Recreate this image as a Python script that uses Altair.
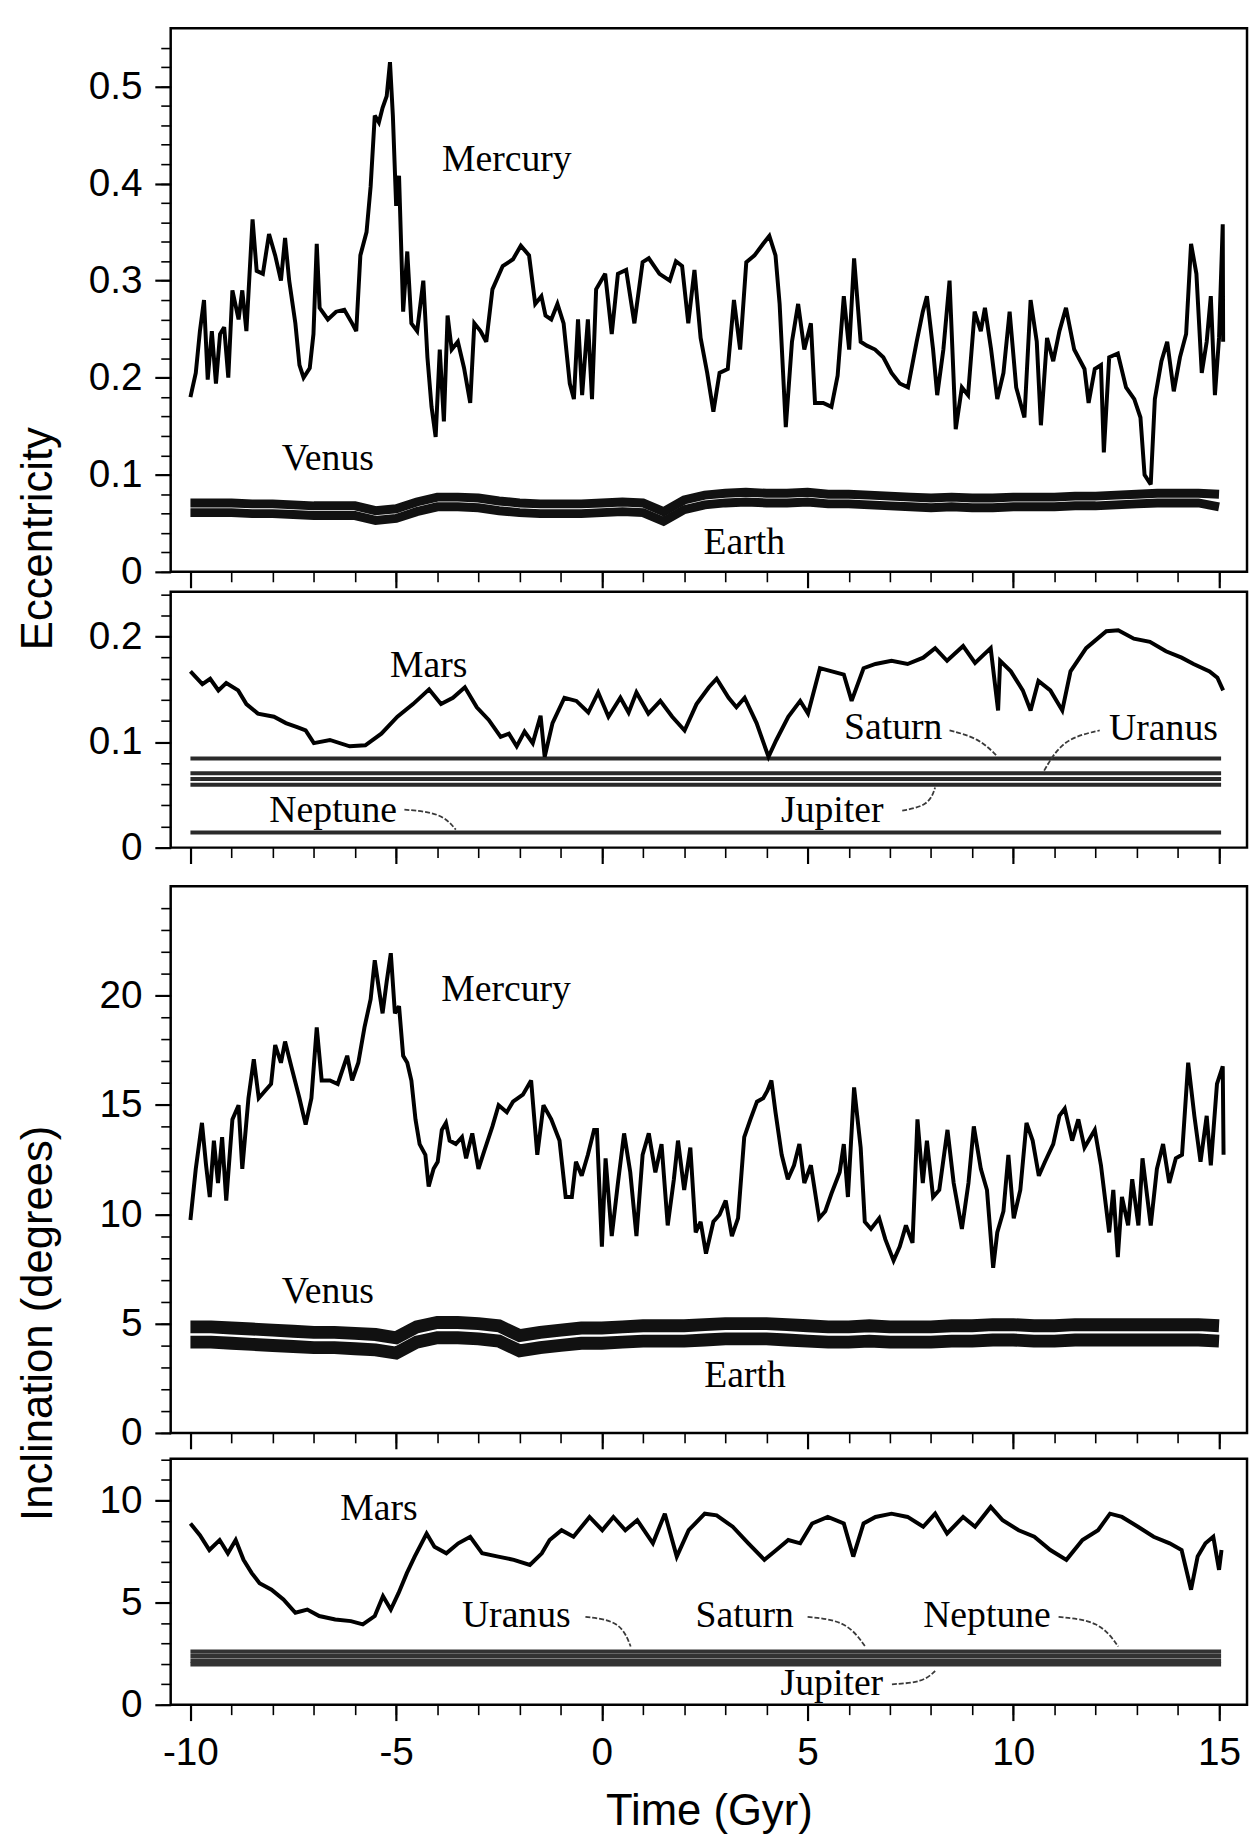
import altair as alt
import pandas as pd

# ---------------- scales / ticks ----------------
X_DOMAIN = [-10.48, 15.68]
X_MAJOR = [-10, -5, 0, 5, 10, 15]
X_MINOR = list(range(-10, 16))

ECC1_DOMAIN = [0, 0.56]
ECC1_MAJOR = [0, 0.1, 0.2, 0.3, 0.4, 0.5]
ECC1_MINOR = [round(0.02 * i, 2) for i in range(28)]
ECC2_DOMAIN = [0, 0.2425]
ECC2_MAJOR = [0, 0.1, 0.2]
ECC2_MINOR = [round(0.02 * i, 2) for i in range(13)]
INC1_DOMAIN = [0, 25]
INC1_MAJOR = [0, 5, 10, 15, 20]
INC1_MINOR = list(range(0, 25))
INC2_DOMAIN = [0, 12.04]
INC2_MAJOR = [0, 5, 10]
INC2_MINOR = list(range(0, 13))

# ---------------- data ----------------
mercury_ecc = [
    (-10.0, 0.18), (-9.87, 0.205), (-9.77, 0.248), (-9.67, 0.28), (-9.58, 0.198), (-9.48, 0.248),
    (-9.38, 0.194), (-9.28, 0.245), (-9.18, 0.252), (-9.08, 0.2), (-8.98, 0.29), (-8.83, 0.26),
    (-8.74, 0.29), (-8.64, 0.248), (-8.49, 0.363), (-8.39, 0.31), (-8.24, 0.307), (-8.09, 0.348),
    (-7.94, 0.326), (-7.8, 0.3), (-7.7, 0.344), (-7.6, 0.3), (-7.45, 0.256), (-7.35, 0.213),
    (-7.25, 0.2), (-7.1, 0.21), (-7.01, 0.245), (-6.93, 0.338), (-6.86, 0.272), (-6.66, 0.26),
    (-6.46, 0.268), (-6.26, 0.27), (-6.07, 0.256), (-5.97, 0.248), (-5.87, 0.326), (-5.72, 0.35),
    (-5.62, 0.397), (-5.52, 0.47), (-5.42, 0.463), (-5.33, 0.478), (-5.23, 0.49), (-5.15, 0.525),
    (-5.08, 0.47), (-5.0, 0.377), (-4.93, 0.408), (-4.83, 0.268), (-4.73, 0.33), (-4.63, 0.256),
    (-4.49, 0.248), (-4.34, 0.3), (-4.24, 0.221), (-4.14, 0.17), (-4.04, 0.139), (-3.94, 0.229),
    (-3.84, 0.155), (-3.75, 0.264), (-3.65, 0.229), (-3.5, 0.237), (-3.35, 0.21), (-3.2, 0.174),
    (-3.1, 0.256), (-2.95, 0.248), (-2.81, 0.237), (-2.66, 0.291), (-2.41, 0.315), (-2.16, 0.322),
    (-1.97, 0.336), (-1.77, 0.326), (-1.62, 0.276), (-1.47, 0.284), (-1.37, 0.264), (-1.23, 0.26),
    (-1.08, 0.276), (-0.93, 0.256), (-0.78, 0.194), (-0.68, 0.178), (-0.58, 0.26), (-0.48, 0.182),
    (-0.34, 0.26), (-0.24, 0.178), (-0.14, 0.291), (0.08, 0.307), (0.24, 0.245), (0.39, 0.307),
    (0.59, 0.311), (0.79, 0.256), (0.99, 0.319), (1.14, 0.323), (1.4, 0.307), (1.65, 0.3),
    (1.8, 0.32), (1.95, 0.315), (2.1, 0.256), (2.25, 0.311), (2.4, 0.241), (2.56, 0.205),
    (2.71, 0.165), (2.86, 0.205), (3.06, 0.209), (3.21, 0.28), (3.36, 0.229), (3.51, 0.319),
    (3.71, 0.326), (3.92, 0.338), (4.07, 0.346), (4.22, 0.326), (4.32, 0.276), (4.47, 0.149),
    (4.62, 0.237), (4.77, 0.276), (4.92, 0.229), (5.08, 0.256), (5.18, 0.174), (5.38, 0.174),
    (5.58, 0.17), (5.73, 0.202), (5.88, 0.284), (6.01, 0.229), (6.13, 0.323), (6.29, 0.237),
    (6.44, 0.233), (6.64, 0.229), (6.84, 0.221), (7.04, 0.205), (7.24, 0.194), (7.44, 0.19),
    (7.65, 0.237), (7.8, 0.268), (7.9, 0.284), (8.05, 0.229), (8.15, 0.182), (8.3, 0.229),
    (8.45, 0.3), (8.6, 0.147), (8.75, 0.19), (8.9, 0.182), (9.06, 0.268), (9.21, 0.248),
    (9.31, 0.272), (9.46, 0.229), (9.61, 0.178), (9.76, 0.205), (9.91, 0.268), (10.07, 0.19),
    (10.27, 0.159), (10.42, 0.28), (10.57, 0.237), (10.67, 0.151), (10.82, 0.241), (10.97, 0.217),
    (11.12, 0.248), (11.28, 0.272), (11.48, 0.229), (11.73, 0.209), (11.83, 0.174), (11.98, 0.209),
    (12.13, 0.213), (12.2, 0.123), (12.33, 0.221), (12.54, 0.225), (12.74, 0.19), (12.94, 0.178),
    (13.09, 0.159), (13.19, 0.1), (13.34, 0.09), (13.44, 0.178), (13.6, 0.217), (13.74, 0.237),
    (13.9, 0.186), (14.05, 0.221), (14.2, 0.245), (14.32, 0.338), (14.45, 0.307), (14.58, 0.205),
    (14.7, 0.237), (14.8, 0.284), (14.9, 0.182), (15.0, 0.241), (15.09, 0.358), (15.1, 0.237),
]

band_t = [-10 + 0.5 * i for i in range(51)]
venus_ecc = [0.071, 0.071, 0.071, 0.070, 0.070, 0.069, 0.068, 0.068, 0.068, 0.063, 0.065, 0.072,
             0.077, 0.077, 0.076, 0.073, 0.071, 0.070, 0.070, 0.070, 0.071, 0.072, 0.071, 0.062,
             0.074, 0.079, 0.081, 0.082, 0.081, 0.081, 0.082, 0.080, 0.080, 0.079, 0.078, 0.077,
             0.076, 0.077, 0.076, 0.076, 0.077, 0.077, 0.077, 0.078, 0.078, 0.079, 0.080, 0.081,
             0.081, 0.081, 0.080]
earth_ecc = [0.061, 0.061, 0.061, 0.060, 0.060, 0.059, 0.058, 0.058, 0.058, 0.053, 0.055, 0.062,
             0.067, 0.067, 0.066, 0.063, 0.061, 0.060, 0.060, 0.060, 0.061, 0.062, 0.061, 0.052,
             0.064, 0.069, 0.071, 0.072, 0.071, 0.071, 0.072, 0.070, 0.070, 0.069, 0.068, 0.067,
             0.066, 0.067, 0.066, 0.066, 0.067, 0.067, 0.067, 0.068, 0.068, 0.069, 0.070, 0.071,
             0.071, 0.071, 0.067]

mars_ecc = [
    (-10, 0.167), (-9.71, 0.155), (-9.52, 0.16), (-9.32, 0.149), (-9.13, 0.156), (-8.84, 0.149),
    (-8.64, 0.136), (-8.36, 0.127), (-7.97, 0.124), (-7.68, 0.118), (-7.39, 0.114), (-7.2, 0.111),
    (-7.0, 0.099), (-6.61, 0.102), (-6.13, 0.096), (-5.75, 0.097), (-5.36, 0.108), (-4.97, 0.124),
    (-4.59, 0.136), (-4.2, 0.15), (-3.91, 0.136), (-3.62, 0.142), (-3.33, 0.152), (-3.04, 0.133),
    (-2.75, 0.121), (-2.46, 0.105), (-2.26, 0.108), (-2.07, 0.096), (-1.88, 0.11), (-1.68, 0.099),
    (-1.49, 0.125), (-1.39, 0.086), (-1.2, 0.118), (-0.91, 0.142), (-0.62, 0.139), (-0.33, 0.128),
    (-0.09, 0.147), (0.16, 0.124), (0.45, 0.142), (0.65, 0.128), (0.84, 0.147), (1.13, 0.127),
    (1.42, 0.139), (1.71, 0.124), (2.01, 0.111), (2.3, 0.136), (2.6, 0.152), (2.79, 0.16),
    (3.08, 0.142), (3.27, 0.133), (3.47, 0.142), (3.76, 0.118), (4.05, 0.086), (4.24, 0.102),
    (4.53, 0.124), (4.82, 0.139), (5.01, 0.127), (5.3, 0.17), (5.59, 0.167), (5.88, 0.164),
    (6.07, 0.139), (6.36, 0.17), (6.65, 0.174), (7.04, 0.177), (7.43, 0.174), (7.81, 0.18),
    (8.1, 0.189), (8.39, 0.177), (8.78, 0.191), (9.07, 0.175), (9.45, 0.189), (9.63, 0.13),
    (9.68, 0.177), (9.94, 0.167), (10.23, 0.149), (10.42, 0.13), (10.61, 0.158), (10.9, 0.149),
    (11.19, 0.13), (11.39, 0.167), (11.77, 0.189), (12.26, 0.205), (12.55, 0.206), (12.93, 0.198),
    (13.32, 0.195), (13.71, 0.186), (14.09, 0.18), (14.38, 0.174), (14.77, 0.167), (14.96, 0.161),
    (15.1, 0.149),
]

outer_span = [-10.0, 15.05]
ecc_outer_levels = [("Saturn", 0.0845), ("Uranus", 0.0705), ("Uranus (min)", 0.065),
                    ("Jupiter", 0.0595), ("Neptune", 0.0143)]

mercury_inc = [
    (-10.0, 9.74), (-9.87, 12.08), (-9.72, 14.18), (-9.62, 12.24), (-9.53, 10.79), (-9.43, 13.37),
    (-9.33, 11.43), (-9.23, 13.53), (-9.13, 10.63), (-8.98, 14.34), (-8.83, 14.99), (-8.74, 12.08),
    (-8.59, 15.31), (-8.46, 17.09), (-8.34, 15.31), (-8.19, 15.64), (-8.04, 15.96), (-7.94, 17.74),
    (-7.8, 16.93), (-7.7, 17.9), (-7.55, 16.77), (-7.35, 15.31), (-7.2, 14.1), (-7.06, 15.31),
    (-6.93, 18.55), (-6.81, 16.12), (-6.61, 16.12), (-6.42, 15.96), (-6.19, 17.25), (-6.07, 16.12),
    (-5.92, 16.93), (-5.77, 18.55), (-5.62, 19.84), (-5.52, 21.62), (-5.42, 20.32), (-5.33, 19.19),
    (-5.23, 20.65), (-5.13, 21.94), (-5.03, 19.19), (-4.93, 19.52), (-4.83, 17.25), (-4.73, 16.93),
    (-4.63, 16.12), (-4.53, 14.34), (-4.43, 13.21), (-4.29, 12.72), (-4.21, 11.27), (-4.09, 12.08),
    (-3.99, 12.4), (-3.89, 13.86), (-3.79, 14.18), (-3.7, 13.37), (-3.55, 13.21), (-3.4, 13.53),
    (-3.3, 12.56), (-3.15, 13.7), (-3.0, 12.08), (-2.86, 12.89), (-2.66, 14.02), (-2.51, 14.99),
    (-2.31, 14.67), (-2.16, 15.15), (-1.92, 15.47), (-1.72, 16.12), (-1.57, 12.72), (-1.42, 14.99),
    (-1.23, 14.34), (-1.03, 13.37), (-0.88, 10.79), (-0.73, 10.79), (-0.63, 12.4), (-0.49, 11.76),
    (-0.34, 12.72), (-0.19, 13.86), (-0.12, 13.86), (0.0, 8.52), (0.09, 12.56), (0.24, 9.0),
    (0.39, 11.43), (0.54, 13.7), (0.69, 11.92), (0.84, 9.0), (0.99, 12.72), (1.14, 13.7),
    (1.3, 11.92), (1.45, 13.21), (1.6, 9.49), (1.75, 11.6), (1.85, 13.37), (2.0, 11.11),
    (2.15, 13.05), (2.28, 9.17), (2.4, 9.66), (2.53, 8.2), (2.71, 9.66), (2.86, 9.98),
    (3.01, 10.63), (3.16, 9.0), (3.31, 9.82), (3.46, 13.53), (3.61, 14.34), (3.77, 15.15),
    (3.92, 15.31), (4.02, 15.64), (4.12, 16.12), (4.22, 14.67), (4.37, 12.72), (4.52, 11.6),
    (4.67, 12.24), (4.8, 13.21), (4.92, 11.43), (5.08, 12.24), (5.28, 9.82), (5.43, 10.14),
    (5.58, 10.95), (5.78, 11.92), (5.88, 13.21), (5.98, 10.79), (6.13, 15.8), (6.29, 13.05),
    (6.39, 9.66), (6.54, 9.33), (6.74, 9.82), (6.89, 8.85), (7.09, 7.88), (7.24, 8.52),
    (7.39, 9.49), (7.55, 8.69), (7.67, 14.34), (7.8, 11.43), (7.9, 13.37), (8.05, 10.79),
    (8.2, 11.11), (8.4, 13.86), (8.55, 11.43), (8.75, 9.33), (8.91, 11.43), (9.04, 14.02),
    (9.21, 12.08), (9.36, 11.11), (9.51, 7.55), (9.61, 9.17), (9.76, 10.14), (9.88, 12.72),
    (10.01, 9.82), (10.17, 11.11), (10.32, 14.18), (10.47, 13.37), (10.62, 11.76), (10.77, 12.4),
    (10.97, 13.21), (11.12, 14.5), (11.25, 14.83), (11.43, 13.37), (11.58, 14.34), (11.73, 13.05),
    (11.98, 13.86), (12.13, 12.24), (12.33, 9.17), (12.43, 11.11), (12.54, 8.04), (12.64, 10.79),
    (12.79, 9.49), (12.89, 11.6), (13.04, 9.49), (13.14, 12.56), (13.34, 9.49), (13.49, 12.08),
    (13.64, 13.21), (13.79, 11.43), (13.95, 12.56), (14.1, 12.72), (14.25, 16.93), (14.4, 14.5),
    (14.55, 12.4), (14.7, 14.5), (14.8, 12.24), (14.95, 15.96), (15.09, 16.77), (15.11, 12.72),
]

venus_inc = [4.85, 4.85, 4.8, 4.75, 4.7, 4.65, 4.6, 4.6, 4.55, 4.5, 4.35, 4.85, 5.05, 5.05, 5.0,
             4.9, 4.45, 4.6, 4.7, 4.8, 4.8, 4.85, 4.9, 4.9, 4.9, 4.95, 5.0, 5.0, 5.0, 4.95, 4.9,
             4.85, 4.85, 4.9, 4.85, 4.85, 4.85, 4.9, 4.9, 4.95, 4.95, 4.9, 4.9, 4.95, 4.95, 4.95,
             4.95, 4.95, 4.95, 4.95, 4.9]
earth_inc = [4.15, 4.15, 4.1, 4.05, 4.0, 3.95, 3.9, 3.9, 3.85, 3.8, 3.65, 4.15, 4.35, 4.35, 4.3,
             4.2, 3.75, 3.9, 4.0, 4.1, 4.1, 4.15, 4.2, 4.2, 4.2, 4.25, 4.3, 4.3, 4.3, 4.25, 4.2,
             4.15, 4.15, 4.2, 4.15, 4.15, 4.15, 4.2, 4.2, 4.25, 4.25, 4.2, 4.2, 4.25, 4.25, 4.25,
             4.25, 4.25, 4.25, 4.25, 4.2]

mars_inc = [
    (-10, 8.87), (-9.77, 8.3), (-9.54, 7.57), (-9.29, 8.06), (-9.09, 7.41), (-8.9, 8.06),
    (-8.71, 7.09), (-8.51, 6.44), (-8.32, 5.95), (-8.03, 5.63), (-7.74, 5.15), (-7.45, 4.5),
    (-7.16, 4.66), (-6.87, 4.34), (-6.48, 4.17), (-6.1, 4.09), (-5.81, 3.93), (-5.52, 4.34),
    (-5.32, 5.31), (-5.13, 4.66), (-4.94, 5.47), (-4.74, 6.44), (-4.55, 7.25), (-4.26, 8.38),
    (-4.07, 7.73), (-3.78, 7.41), (-3.49, 7.9), (-3.2, 8.22), (-2.91, 7.41), (-2.52, 7.25),
    (-2.14, 7.09), (-1.75, 6.84), (-1.46, 7.41), (-1.27, 8.06), (-0.98, 8.54), (-0.69, 8.22),
    (-0.3, 9.19), (0.01, 8.54), (0.28, 9.19), (0.57, 8.54), (0.86, 9.03), (1.24, 7.9),
    (1.53, 9.35), (1.82, 7.25), (2.11, 8.54), (2.5, 9.35), (2.79, 9.27), (3.18, 8.71),
    (3.56, 7.9), (3.95, 7.09), (4.24, 7.57), (4.53, 8.06), (4.82, 7.9), (5.11, 8.87),
    (5.49, 9.19), (5.88, 8.87), (6.11, 7.25), (6.36, 8.87), (6.65, 9.19), (7.04, 9.35),
    (7.43, 9.19), (7.81, 8.71), (8.1, 9.35), (8.39, 8.38), (8.78, 9.19), (9.07, 8.71),
    (9.45, 9.68), (9.74, 9.03), (10.13, 8.54), (10.51, 8.22), (10.9, 7.57), (11.29, 7.09),
    (11.68, 8.06), (12.06, 8.54), (12.35, 9.35), (12.64, 9.19), (13.03, 8.71), (13.41, 8.22),
    (13.8, 7.9), (14.09, 7.57), (14.32, 5.63), (14.48, 7.25), (14.67, 7.9), (14.86, 8.22),
    (15.0, 6.6), (15.06, 7.57),
]

inc_outer_levels = [("Neptune", 2.6), ("Saturn", 2.38), ("Uranus", 2.16), ("Jupiter", 1.98)]

# labels: (text, t, value)
ecc_inner_labels = [("Mercury", -2.31, 0.424), ("Venus", -6.66, 0.116), ("Earth", 3.46, 0.030)]
ecc_outer_labels = [("Mars", -4.21, 0.172), ("Saturn", 7.08, 0.113), ("Uranus", 13.65, 0.112),
                    ("Neptune", -6.53, 0.035), ("Jupiter", 5.6, 0.035)]
inc_inner_labels = [("Mercury", -2.33, 20.24), ("Venus", -6.66, 6.42), ("Earth", 3.48, 2.62)]
inc_outer_labels = [("Mars", -5.42, 9.55), ("Uranus", -2.08, 4.35), ("Saturn", 3.47, 4.35),
                    ("Neptune", 9.36, 4.35), ("Jupiter", 5.59, 1.02)]

# leader lines: (name, t, value)
ecc_leaders = [
    ("Saturn", 8.45, 0.111), ("Saturn", 9.15, 0.104), ("Saturn", 9.6, 0.087),
    ("Uranus", 12.1, 0.111), ("Uranus", 11.2, 0.103), ("Uranus", 10.75, 0.073),
    ("Jupiter", 7.3, 0.035), ("Jupiter", 7.95, 0.040), ("Jupiter", 8.1, 0.057),
    ("Neptune", -4.8, 0.036), ("Neptune", -3.9, 0.033), ("Neptune", -3.55, 0.017),
]
inc_leaders = [
    ("Uranus", -0.4, 4.3), ("Uranus", 0.45, 4.1), ("Uranus", 0.7, 2.85),
    ("Saturn", 5.0, 4.3), ("Saturn", 5.95, 4.1), ("Saturn", 6.4, 2.85),
    ("Neptune", 11.1, 4.3), ("Neptune", 12.1, 4.1), ("Neptune", 12.55, 2.85),
    ("Jupiter", 7.05, 1.0), ("Jupiter", 7.8, 1.1), ("Jupiter", 8.1, 1.65),
]

# ---------------- helpers ----------------
SANS = "Liberation Sans"
SERIF = "Liberation Serif"
W = 1085


def pairs_df(pairs):
    return pd.DataFrame(pairs, columns=["t", "v"])


def band_df(vals):
    return pd.DataFrame({"t": band_t, "v": vals})


def levels_df(levels):
    rows = []
    for name, v in levels:
        for t in outer_span:
            rows.append({"name": name, "t": t, "v": v})
    return pd.DataFrame(rows)


def labels_df(labels):
    return pd.DataFrame(labels, columns=["name", "t", "v"])


def xs():
    return alt.Scale(domain=X_DOMAIN, nice=False, zero=False)


def ys(dom):
    return alt.Scale(domain=dom, nice=False, zero=False)


def x_major_axis(show_labels, title):
    kw = dict(orient="bottom", values=X_MAJOR, tickSize=16, tickWidth=2.2, tickColor="black",
              domain=False, grid=False, labels=show_labels, labelFont=SANS, labelFontSize=39,
              labelColor="black", labelPadding=13, labelExpr="toString(datum.value)",
              labelFlush=False, labelOverlap=False)
    if title:
        kw.update(title=title, titleFont=SANS, titleFontSize=44, titleFontWeight="normal",
                  titleColor="black", titleBaseline="alphabetic", titleY=121)
    else:
        kw.update(title=None)
    return alt.Axis(**kw)


def y_major_axis(values, title, title_y):
    kw = dict(orient="left", values=values, tickSize=16, tickWidth=2.2, tickColor="black",
              domain=False, grid=False, labelFont=SANS, labelFontSize=39, labelColor="black",
              labelPadding=13, labelExpr="toString(datum.value)", labelFlush=False,
              labelOverlap=False)
    if title:
        kw.update(title=title, titleFont=SANS, titleFontSize=44, titleFontWeight="normal",
                  titleColor="black", titleAngle=270, titleAlign="center",
                  titleBaseline="alphabetic", titleX=-120, titleY=title_y)
    else:
        kw.update(title=None)
    return alt.Axis(**kw)


def minor_axis(orient, values):
    return alt.Axis(orient=orient, values=values, tickSize=10, tickWidth=1.6, tickColor="black",
                    domain=False, grid=False, labels=False, title=None)


def plain(df, ydom, stroke, color="black", detail=None):
    enc = dict(x=alt.X("t:Q", scale=xs(), axis=None), y=alt.Y("v:Q", scale=ys(ydom), axis=None))
    if detail:
        enc["detail"] = detail
    return alt.Chart(df).mark_line(color=color, strokeWidth=stroke).encode(**enc)


def text_layer(df, ydom):
    return alt.Chart(df).mark_text(font=SERIF, fontSize=38, color="black", align="center",
                                   baseline="middle").encode(
        x=alt.X("t:Q", scale=xs(), axis=None), y=alt.Y("v:Q", scale=ys(ydom), axis=None),
        text="name:N")


def leader_layer(df, ydom):
    return alt.Chart(df).mark_line(color="#3a3a3a", strokeWidth=1.8, strokeDash=[5, 2],
                                   interpolate="basis").encode(
        x=alt.X("t:Q", scale=xs(), axis=None), y=alt.Y("v:Q", scale=ys(ydom), axis=None),
        detail="name:N")


def panel(main_df, ydom, ymajor, yminor, height, extra_layers, x_labels=False, x_title=None,
          y_title=None, y_title_y=None):
    main = alt.Chart(main_df).mark_line(color="black", strokeWidth=4, strokeJoin="miter",
                                        strokeMiterLimit=3).encode(
        x=alt.X("t:Q", scale=xs(), axis=x_major_axis(x_labels, x_title)),
        y=alt.Y("v:Q", scale=ys(ydom), axis=y_major_axis(ymajor, y_title, y_title_y)))
    minor = alt.Chart(main_df).mark_line(opacity=0).encode(
        x=alt.X("t:Q", scale=xs(), axis=minor_axis("bottom", X_MINOR)),
        y=alt.Y("v:Q", scale=ys(ydom), axis=minor_axis("left", yminor)))
    return alt.layer(*extra_layers, main, minor).resolve_axis(
        x="independent", y="independent").properties(width=W, height=height)


def spacer(h):
    return alt.Chart(pd.DataFrame({"v": [0]})).mark_point(opacity=0).encode(
        x=alt.X("v:Q", axis=None), y=alt.Y("v:Q", axis=None)).properties(
        width=W, height=h, view=alt.ViewBackground(strokeOpacity=0))


# ---------------- panels ----------------
p1 = panel(
    pairs_df(mercury_ecc), ECC1_DOMAIN, ECC1_MAJOR, ECC1_MINOR, 548,
    [plain(band_df(venus_ecc), ECC1_DOMAIN, 9, color="#111111"),
     plain(band_df(earth_ecc), ECC1_DOMAIN, 9, color="#111111"),
     text_layer(labels_df(ecc_inner_labels), ECC1_DOMAIN)],
    y_title="Eccentricity", y_title_y=514)

p2 = panel(
    pairs_df(mars_ecc), ECC2_DOMAIN, ECC2_MAJOR, ECC2_MINOR, 258,
    [plain(levels_df(ecc_outer_levels), ECC2_DOMAIN, 4, color="#2a2a2a", detail="name:N"),
     leader_layer(pd.DataFrame(ecc_leaders, columns=["name", "t", "v"]), ECC2_DOMAIN),
     text_layer(labels_df(ecc_outer_labels), ECC2_DOMAIN)])

p3 = panel(
    pairs_df(mercury_inc), INC1_DOMAIN, INC1_MAJOR, INC1_MINOR, 551,
    [plain(band_df(venus_inc), INC1_DOMAIN, 13, color="#111111"),
     plain(band_df(earth_inc), INC1_DOMAIN, 13, color="#111111"),
     text_layer(labels_df(inc_inner_labels), INC1_DOMAIN)],
    y_title="Inclination (degrees)", y_title_y=440)

p4 = panel(
    pairs_df(mars_inc), INC2_DOMAIN, INC2_MAJOR, INC2_MINOR, 248,
    [plain(levels_df(inc_outer_levels), INC2_DOMAIN, 4.4, color="#333333", detail="name:N"),
     leader_layer(pd.DataFrame(inc_leaders, columns=["name", "t", "v"]), INC2_DOMAIN),
     text_layer(labels_df(inc_outer_labels), INC2_DOMAIN)],
    x_labels=True, x_title="Time (Gyr)")

chart = alt.vconcat(
    p1, spacer(2), p2, spacer(21), p3, spacer(8), p4, spacing=9, bounds="flush"
).properties(
    padding={"left": 7, "top": 11, "right": 0, "bottom": 0}
).configure_view(stroke="black", strokeWidth=2.5)

chart.save("out.html", embed_options={"renderer": "svg", "actions": False})
